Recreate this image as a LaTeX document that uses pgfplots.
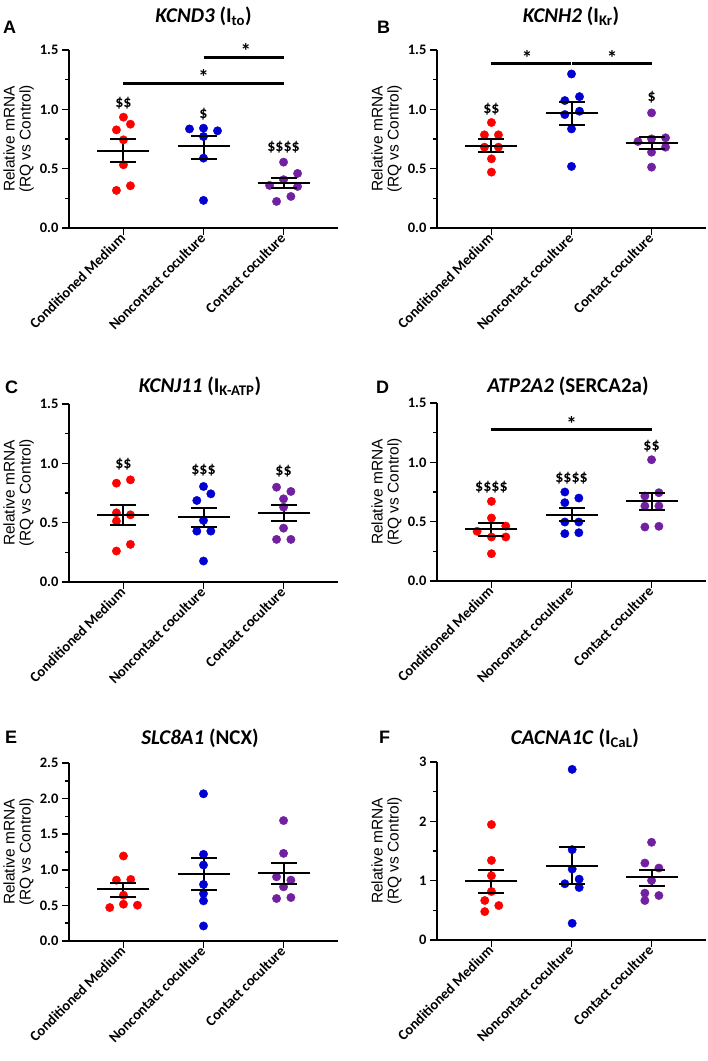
\documentclass[border=0pt]{standalone}
\usepackage{fontspec}
\setmainfont{Carlito}
\newfontfamily\arialfont{Liberation Sans}
\usepackage{pgfplots}
\pgfplotsset{compat=1.18}

\definecolor{cmred}{RGB}{255,0,0}
\definecolor{ncblue}{RGB}{0,0,210}
\definecolor{ccpurple}{RGB}{112,32,160}

\newcommand\tickfont{\fontsize{14.5}{14.5}\selectfont\bfseries}
\newcommand\catfont{\fontsize{14.5}{14.5}\selectfont\bfseries}
\newcommand\labfont{\arialfont\fontsize{15.5}{16}\selectfont}
\newcommand\titlefont{\fontsize{21}{21}\selectfont\bfseries}
\newcommand\letterfont{\arialfont\fontsize{18}{18}\selectfont\bfseries}
\newcommand\sigfont{\fontsize{16}{16}\selectfont\bfseries}
\newcommand\starfont{\fontsize{21}{21}\selectfont\bfseries}

\pgfplotsset{
  panel/.style={
    scale only axis, width=269pt, height=178pt,
    xmin=-0.68, xmax=2.68, ymin=0,
    clip=false,
    axis x line*=bottom, axis y line*=left,
    axis line style={-, line width=1.8pt},
    every tick/.style={black, line width=1.5pt},
    tick align=outside, major tick length=7pt, minor tick length=4pt,
    xtick={0,1,2},
    xticklabels={Conditioned Medium, Noncontact coculture, Contact coculture},
    xticklabel style={font=\catfont, rotate=45, anchor=east, inner sep=1pt},
    yticklabel style={font=\tickfont, /pgf/number format/.cd, assume math mode=true,
      fixed, fixed zerofill, precision=1},
    minor y tick num=1,
    ylabel={Relative mRNA\\(RQ vs Control)},
    ylabel style={font=\labfont, align=center, inner sep=0pt,
      at={(axis description cs:-0.13,0.5)}, anchor=south},
    anchor=south west,
  },
  pts/.style={only marks, mark=*, mark size=4.2pt, #1, mark options={draw=none, fill=#1}},
  meanline/.style={only marks, mark=-, mark size=26pt, black, mark options={line width=2pt}},
  capline/.style={only marks, mark=-, mark size=13pt, black, mark options={line width=2pt}},
  semline/.style={black, line width=2pt, unbounded coords=jump},
  sigbar/.style={black, line width=3pt},
}

\begin{document}
\begin{tikzpicture}
\path[use as bounding box] (0pt,0pt) rectangle (708pt,-1061pt);

% ---------------- A: KCND3
\begin{axis}[panel, at={(69pt,-228pt)}, ymax=1.5, ytick={0,0.5,1,1.5}]
\addplot[pts=cmred] coordinates {(0,0.934) (-0.0875,0.827) (0.0875,0.875) (0,0.743) (0,0.533) (-0.0875,0.317) (0.0875,0.356)};
\addplot[pts=ncblue] coordinates {(0.825,0.835) (1,0.841) (1.175,0.819) (1,0.771) (1,0.589) (1,0.233)};
\addplot[pts=ccpurple] coordinates {(2,0.555) (2.175,0.46) (1.825,0.359) (2,0.407) (2.175,0.350) (2.0917,0.266) (1.9125,0.224)};
\addplot[meanline] coordinates {(0,0.653) (1,0.687) (2,0.378)};
\addplot[capline] coordinates {(0,0.751) (0,0.558) (1,0.779) (1,0.583) (2,0.42) (2,0.334)};
\addplot[semline] coordinates {(0,0.558) (0,0.751) (0,nan) (1,0.583) (1,0.779) (1,nan) (2,0.334) (2,0.42)};
\addplot[sigbar] coordinates {(0,1.22) (2,1.22)};
\addplot[sigbar] coordinates {(1,1.435) (2,1.435)};
\node[font=\starfont] at (axis cs:1,1.27) {*};
\node[font=\starfont] at (axis cs:1.53,1.49) {*};
\node[font=\sigfont] at (axis cs:0,1.05) {\$\$};
\node[font=\sigfont] at (axis cs:1,0.96) {\$};
\node[font=\sigfont] at (axis cs:2,0.685) {\$\$\$\$};
\end{axis}

% ---------------- B: KCNH2
\begin{axis}[panel, at={(437pt,-228pt)}, ymax=1.5, ytick={0,0.5,1,1.5}]
\addplot[pts=cmred] coordinates {(0,0.889) (-0.0875,0.785) (0.0875,0.785) (-0.0875,0.681) (0.0875,0.681) (0,0.583) (0,0.471)};
\addplot[pts=ncblue] coordinates {(1,1.298) (0.9167,1.074) (1.1,1.107) (0.9167,0.956) (1.1,0.984) (1,0.835) (1,0.519)};
\addplot[pts=ccpurple] coordinates {(2,0.97) (1.83,0.729) (2,0.751) (2.175,0.760) (2.175,0.681) (2,0.639) (2,0.513)};
\addplot[meanline] coordinates {(0,0.695) (1,0.967) (2,0.718)};
\addplot[capline] coordinates {(0,0.746) (0,0.639) (1,1.06) (1,0.872) (2,0.771) (2,0.662)};
\addplot[semline] coordinates {(0,0.639) (0,0.746) (0,nan) (1,0.872) (1,1.06) (1,nan) (2,0.662) (2,0.771)};
\addplot[sigbar] coordinates {(0,1.388) (0.99,1.388)};
\addplot[sigbar] coordinates {(1.01,1.388) (2,1.388)};
\node[font=\starfont] at (axis cs:0.446,1.435) {*};
\node[font=\starfont] at (axis cs:1.508,1.435) {*};
\node[font=\sigfont] at (axis cs:0,1.004) {\$\$};
\node[font=\sigfont] at (axis cs:2,1.10) {\$};
\end{axis}

% ---------------- C: KCNJ11
\begin{axis}[panel, at={(69pt,-582pt)}, ymax=1.5, ytick={0,0.5,1,1.5}]
\addplot[pts=cmred] coordinates {(-0.0875,0.833) (0.0875,0.861) (-0.0875,0.583) (0.0875,0.566) (-0.0875,0.513) (-0.0875,0.261) (0.0875,0.317)};
\addplot[pts=ncblue] coordinates {(1,0.805) (0.9167,0.687) (1.0917,0.743) (1,0.519) (0.9167,0.429) (1.0917,0.429) (1,0.177)};
\addplot[pts=ccpurple] coordinates {(1.9125,0.799) (2.0917,0.763) (2,0.701) (2,0.631) (2,0.454) (1.9125,0.359) (2.0917,0.359)};
\addplot[meanline] coordinates {(0,0.566) (1,0.547) (2,0.580)};
\addplot[capline] coordinates {(0,0.650) (0,0.477) (1,0.625) (1,0.463) (2,0.653) (2,0.510)};
\addplot[semline] coordinates {(0,0.477) (0,0.650) (0,nan) (1,0.463) (1,0.625) (1,nan) (2,0.510) (2,0.653)};
\node[font=\sigfont] at (axis cs:0,0.995) {\$\$};
\node[font=\sigfont] at (axis cs:1,0.945) {\$\$\$};
\node[font=\sigfont] at (axis cs:2,0.934) {\$\$};
\end{axis}

% ---------------- D: ATP2A2
\begin{axis}[panel, at={(437pt,-581pt)}, ymax=1.5, ytick={0,0.5,1,1.5}]
\addplot[pts=cmred] coordinates {(0,0.671) (0,0.531) (-0.179,0.419) (0.179,0.463) (0,0.371) (0.179,0.371) (0,0.230)};
\addplot[pts=ncblue] coordinates {(0.9167,0.75) (1.0917,0.699) (0.9167,0.660) (0.9167,0.497) (1.0917,0.497) (0.9167,0.399) (1.0917,0.407)};
\addplot[pts=ccpurple] coordinates {(2,1.022) (1.9167,0.716) (2.0917,0.744) (1.9167,0.632) (2.0917,0.632) (1.9167,0.455) (2.0917,0.461)};
\addplot[meanline] coordinates {(0,0.435) (1,0.559) (2,0.671)};
\addplot[capline] coordinates {(0,0.489) (0,0.382) (1,0.615) (1,0.503) (2,0.744) (2,0.596)};
\addplot[semline] coordinates {(0,0.382) (0,0.489) (0,nan) (1,0.503) (1,0.615) (1,nan) (2,0.596) (2,0.744)};
\addplot[sigbar] coordinates {(0,1.278) (2,1.278)};
\node[font=\starfont] at (axis cs:1,1.325) {*};
\node[font=\sigfont] at (axis cs:0,0.792) {\$\$\$\$};
\node[font=\sigfont] at (axis cs:1,0.868) {\$\$\$\$};
\node[font=\sigfont] at (axis cs:2,1.135) {\$\$};
\end{axis}

% ---------------- E: SLC8A1
\begin{axis}[panel, at={(69pt,-941pt)}, ymax=2.5, ytick={0,0.5,1,1.5,2,2.5}]
\addplot[pts=cmred] coordinates {(0,1.194) (-0.0875,0.855) (0.0917,0.865) (0,0.644) (0,0.517) (0.175,0.503) (-0.171,0.47)};
\addplot[pts=ncblue] coordinates {(1,2.068) (1,1.217) (1,1.067) (1,0.794) (1,0.667) (1,0.564) (1,0.211)};
\addplot[pts=ccpurple] coordinates {(2,1.692) (2,1.231) (1.9125,0.902) (2.0917,0.855) (2,0.761) (1.9125,0.597) (2.0917,0.611)};
\addplot[meanline] coordinates {(0,0.724) (1,0.940) (2,0.949)};
\addplot[capline] coordinates {(0,0.818) (0,0.620) (1,1.170) (1,0.714) (2,1.10) (2,0.799)};
\addplot[semline] coordinates {(0,0.620) (0,0.818) (0,nan) (1,0.714) (1,1.170) (1,nan) (2,0.799) (2,1.10)};
\end{axis}

% ---------------- F: CACNA1C
\begin{axis}[panel, at={(437pt,-940pt)}, ymax=3, ytick={0,1,2,3},
  yticklabel style={/pgf/number format/precision=0, /pgf/number format/fixed zerofill=false}]
\addplot[pts=cmred] coordinates {(0,1.946) (0,1.342) (0,1.083) (0,0.818) (-0.0833,0.666) (0.0917,0.581) (-0.0833,0.479)};
\addplot[pts=ncblue] coordinates {(1.0083,2.876) (1.0083,1.523) (1.0083,1.196) (0.9167,0.948) (1.0958,1.026) (1.0958,0.885) (1.0083,0.282)};
\addplot[pts=ccpurple] coordinates {(2,1.647) (1.9167,1.297) (2.0917,1.213) (2,1.004) (1.9167,0.79) (2.0917,0.750) (1.9167,0.666)};
\addplot[meanline] coordinates {(0,0.987) (1,1.252) (2,1.06)};
\addplot[capline] coordinates {(0,1.184) (0,0.790) (1,1.562) (1,0.942) (2,1.184) (2,0.914)};
\addplot[semline] coordinates {(0,0.790) (0,1.184) (0,nan) (1,0.942) (1,1.562) (1,nan) (2,0.914) (2,1.184)};
\end{axis}

% titles and panel letters
\node[font=\letterfont, anchor=base west, inner sep=0pt] at (3pt,-33pt) {A};
\node[font=\letterfont, anchor=base west, inner sep=0pt] at (377pt,-33pt) {B};
\node[font=\letterfont, anchor=base west, inner sep=0pt] at (5pt,-393pt) {C};
\node[font=\letterfont, anchor=base west, inner sep=0pt] at (376pt,-393pt) {D};
\node[font=\letterfont, anchor=base west, inner sep=0pt] at (5pt,-743pt) {E};
\node[font=\letterfont, anchor=base west, inner sep=0pt] at (379pt,-743pt) {F};
\node[font=\titlefont, anchor=base, inner sep=0pt] at (203.5pt,-22pt) {\textit{KCND3} (I\textsubscript{to})};
\node[font=\titlefont, anchor=base, inner sep=0pt] at (571pt,-22pt) {\textit{KCNH2} (I\textsubscript{Kr})};
\node[font=\titlefont, anchor=base, inner sep=0pt] at (200pt,-392pt) {\textit{KCNJ11} (I\textsubscript{K-ATP})};
\node[font=\titlefont, anchor=base, inner sep=0pt] at (568pt,-392pt) {\textit{ATP2A2} (SERCA2a)};
\node[font=\titlefont, anchor=base, inner sep=0pt] at (200pt,-744pt) {\textit{SLC8A1} (NCX)};
\node[font=\titlefont, anchor=base, inner sep=0pt] at (575pt,-744pt) {\textit{CACNA1C} (I\textsubscript{CaL})};
\end{tikzpicture}
\end{document}
